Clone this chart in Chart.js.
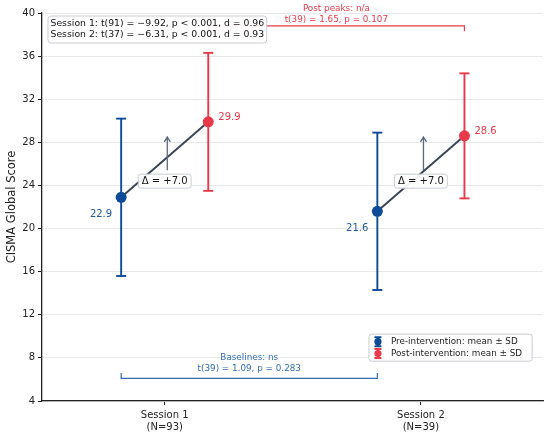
<!DOCTYPE html>
<html>
<head>
<meta charset="utf-8">
<script src="https://cdn.jsdelivr.net/npm/chart.js@4.4.1/dist/chart.umd.min.js"></script>
<style>
  html, body { margin: 0; padding: 0; background: #fff; }
  #wrap { width: 550px; height: 437px; }
</style>
</head>
<body>
<div id="wrap"><canvas id="chart"></canvas></div>
<script>
Chart.defaults.font.family = '"DejaVu Sans", sans-serif'
Chart.defaults.color = '#222'

// data
const sessions = ['Session 1', 'Session 2']
const sampleSizes = [93, 39]
const preMean = [22.9, 21.6]
const preSD = [7.3, 7.3]
const postMean = [29.9, 28.6]
const postSD = [6.4, 5.8]
const deltaText = ['Δ = +7.0', 'Δ = +7.0']
const statLines = [
    'Session 1: t(91) = −9.92, p < 0.001, d = 0.96',
    'Session 2: t(37) = −6.31, p < 0.001, d = 0.93'
]
const baselineText = ['Baselines: ns', 't(39) = 1.09, p = 0.283']
const postPeakText = ['Post peaks: n/a', 't(39) = 1.65, p = 0.107']
const legendLabels = ['Pre-intervention: mean ± SD', 'Post-intervention: mean ± SD']
const yMin = 4, yMax = 40, yStep = 4

const BLUE = '#0d4b97'
const RED = '#e8394a'
const SLATE = '#3a4557'
const ARROW = '#5c6879'
const OFF = 0.17          // pre/post offset around each session
const deltaY = 24.4       // level of the Δ boxes
const postBracketY = 38.8, postBracketTick = 38.3
const baseBracketY = 6.1, baseBracketTick = 6.6

const preX = sessions.map((s, i) => i - OFF)
const postX = sessions.map((s, i) => i + OFF)

const datasets = []

// markers (on top)
datasets.push({
    data: preMean.map((m, i) => ({ x: preX[i], y: m })),
    backgroundColor: BLUE, borderColor: BLUE, pointRadius: 5.5, pointBorderWidth: 0,
    showLine: false, order: 0
})
datasets.push({
    data: postMean.map((m, i) => ({ x: postX[i], y: m })),
    backgroundColor: RED, borderColor: RED, pointRadius: 5.5, pointBorderWidth: 0,
    showLine: false, order: 0
})

// error bars, caps drawn as 'line' points
function errorBar(x, mean, sd, color) {
    return {
        data: [{ x: x, y: mean - sd }, { x: x, y: mean + sd }],
        showLine: true, borderColor: color, borderWidth: 1.9,
        pointStyle: 'line', pointRadius: 5, pointBorderColor: color, pointBorderWidth: 1.9,
        order: 1
    }
}
sessions.forEach((s, i) => {
    datasets.push(errorBar(preX[i], preMean[i], preSD[i], BLUE))
    datasets.push(errorBar(postX[i], postMean[i], postSD[i], RED))
})

// pre -> post connecting lines
sessions.forEach((s, i) => {
    datasets.push({
        data: [{ x: preX[i], y: preMean[i] }, { x: postX[i], y: postMean[i] }],
        showLine: true, borderColor: SLATE, borderWidth: 2, pointRadius: 0, order: 2
    })
})

// comparison brackets
datasets.push({
    data: [
        { x: postX[0], y: postBracketTick }, { x: postX[0], y: postBracketY },
        { x: postX[1], y: postBracketY }, { x: postX[1], y: postBracketTick }
    ],
    showLine: true, borderColor: RED, borderWidth: 1.2, pointRadius: 0, order: 3
})
datasets.push({
    data: [
        { x: preX[0], y: baseBracketTick }, { x: preX[0], y: baseBracketY },
        { x: preX[1], y: baseBracketY }, { x: preX[1], y: baseBracketTick }
    ],
    showLine: true, borderColor: '#2f6db5', borderWidth: 1.2, pointRadius: 0, order: 3
})

function roundBox(ctx, x, y, w, h, r) {
    ctx.beginPath()
    ctx.roundRect(x, y, w, h, r)
    ctx.fillStyle = 'rgba(255,255,255,0.92)'
    ctx.fill()
    ctx.strokeStyle = '#c8ccd2'
    ctx.lineWidth = 1
    ctx.stroke()
}

const annotations = {
    id: 'annotations',
    afterDatasetsDraw(chart) {
        const ctx = chart.ctx
        const xs = chart.scales.x, ys = chart.scales.y
        const px = v => xs.getPixelForValue(v)
        const py = v => ys.getPixelForValue(v)
        ctx.save()

        // arrows
        sessions.forEach((s, i) => {
            const x = px(i + 0.01)
            const y0 = py(deltaY + 1.0), y1 = py(deltaY + 4.1)
            ctx.strokeStyle = ARROW
            ctx.lineWidth = 1.3
            ctx.beginPath()
            ctx.moveTo(x, y0); ctx.lineTo(x, y1)
            ctx.moveTo(x - 3, y1 + 5); ctx.lineTo(x, y1); ctx.lineTo(x + 3, y1 + 5)
            ctx.stroke()
        })

        // Δ boxes
        ctx.font = '10px "DejaVu Sans"'
        ctx.textBaseline = 'middle'
        ctx.textAlign = 'center'
        sessions.forEach((s, i) => {
            const x = px(i), y = py(deltaY)
            const w = ctx.measureText(deltaText[i]).width + 7
            roundBox(ctx, x - w / 2, y - 7, w, 14, 2.5)
            ctx.fillStyle = '#111'
            ctx.fillText(deltaText[i], x, y + 0.5)
        })

        // value labels
        sessions.forEach((s, i) => {
            ctx.fillStyle = '#1f5aa6'
            ctx.textAlign = 'right'
            ctx.fillText(preMean[i].toFixed(1), px(preX[i]) - 9, py(preMean[i] - 1.6))
            ctx.fillStyle = RED
            ctx.textAlign = 'left'
            ctx.fillText(postMean[i].toFixed(1), px(postX[i]) + 10, py(postMean[i]) - 4)
        })

        // bracket texts
        ctx.font = '8.8px "DejaVu Sans"'
        ctx.textAlign = 'center'
        ctx.fillStyle = RED
        const pmx = (px(postX[0]) + px(postX[1])) / 2
        ctx.fillText(postPeakText[0], pmx, py(postBracketY) - 17.5)
        ctx.fillText(postPeakText[1], pmx, py(postBracketY) - 6.5)
        ctx.fillStyle = '#2f6db5'
        const bmx = (px(preX[0]) + px(preX[1])) / 2
        ctx.fillText(baselineText[0], bmx, py(baseBracketY) - 20.5)
        ctx.fillText(baselineText[1], bmx, py(baseBracketY) - 10)

        // stats box
        ctx.font = '9.3px "DejaVu Sans"'
        ctx.textAlign = 'left'
        const sw = Math.max(...statLines.map(t => ctx.measureText(t).width)) + 5
        const bx = chart.chartArea.left + 6, by = chart.chartArea.top + 3
        roundBox(ctx, bx, by, sw, 27, 3)
        ctx.fillStyle = '#111'
        statLines.forEach((t, k) => ctx.fillText(t, bx + 2.5, by + 7.5 + k * 11.5))

        // legend
        ctx.font = '8.8px "DejaVu Sans"'
        const lw = Math.max(...legendLabels.map(t => ctx.measureText(t).width)) + 32
        const lx = chart.chartArea.right - 11 - lw, ly = py(10.2)
        roundBox(ctx, lx, ly, lw, 27, 2.5)
        const colors = [BLUE, RED]
        legendLabels.forEach((t, k) => {
            const cy = ly + 7.5 + k * 11.8
            const cx = lx + 9
            ctx.strokeStyle = colors[k]
            ctx.fillStyle = colors[k]
            ctx.lineWidth = 2
            ctx.beginPath()
            ctx.moveTo(cx - 3.5, cy - 4.5); ctx.lineTo(cx + 3.5, cy - 4.5)
            ctx.moveTo(cx - 3.5, cy + 4.5); ctx.lineTo(cx + 3.5, cy + 4.5)
            ctx.moveTo(cx, cy - 4.5); ctx.lineTo(cx, cy + 4.5)
            ctx.stroke()
            ctx.beginPath()
            ctx.arc(cx, cy, 3.6, 0, Math.PI * 2)
            ctx.fill()
            ctx.fillStyle = '#222'
            ctx.fillText(t, lx + 22, cy)
        })
        ctx.restore()
    }
}

new Chart(document.getElementById('chart'), {
    type: 'scatter',
    data: { datasets: datasets },
    options: {
        responsive: true,
        maintainAspectRatio: false,
        animation: false,
        layout: { padding: { top: 13, right: 6, left: 0, bottom: 0 } },
        plugins: {
            legend: { display: false },
            tooltip: { enabled: false }
        },
        scales: {
            x: {
                type: 'linear',
                min: -0.479,
                max: 1.477,
                afterBuildTicks: scale => { scale.ticks = sessions.map((s, i) => ({ value: i })) },
                afterFit: scale => { scale.height = 36 },
                grid: { drawOnChartArea: false, tickLength: 4, tickColor: '#222', tickWidth: 1 },
                border: { color: '#222', width: 1.3 },
                ticks: {
                    font: { size: 10 },
                    color: '#222',
                    padding: 4,
                    maxRotation: 0,
                    callback: v => [sessions[v], '(N=' + sampleSizes[v] + ')']
                }
            },
            y: {
                min: yMin,
                max: yMax,
                afterFit: scale => { scale.width = 42 },
                grid: { color: '#e6e8eb', lineWidth: 1, tickLength: 4, tickColor: '#222' },
                border: { color: '#222', width: 1.3 },
                ticks: { stepSize: yStep, font: { size: 10 }, color: '#222', padding: 3 },
                title: {
                    display: true,
                    text: 'CISMA Global Score',
                    font: { size: 11.5 },
                    color: '#222',
                    padding: { top: 5, bottom: 0 }
                }
            }
        }
    },
    plugins: [annotations]
})
</script>
</body>
</html>
